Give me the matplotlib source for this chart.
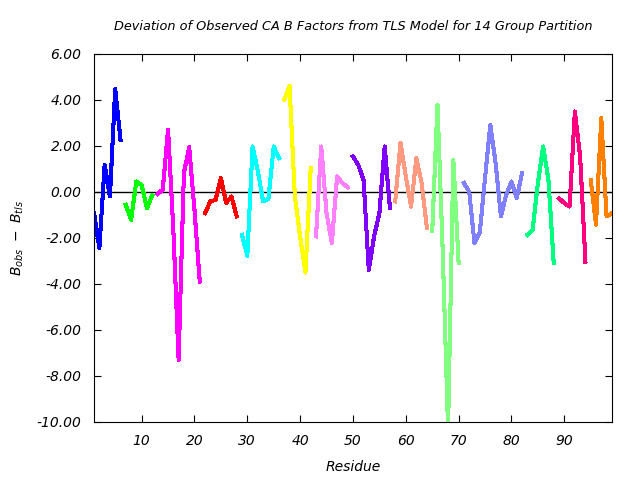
import matplotlib
matplotlib.use("Agg")
import matplotlib.pyplot as plt

# residue numbers and deviations, one list per TLS group
groups = [
    (list(range(1, 7)), [-0.93, -2.45, 1.17, -0.2, 4.47, 2.26]),
    (list(range(7, 13)), [-0.57, -1.22, 0.45, 0.3, -0.71, -0.16]),
    (list(range(13, 22)), [-0.09, 0.09, 2.7, -1.65, -7.3, 0.81, 1.94, -0.78, -3.9]),
    (list(range(22, 29)), [-0.93, -0.42, -0.35, 0.6, -0.49, -0.2, -1.07]),
    (list(range(29, 37)), [-1.87, -2.78, 1.97, 0.9, -0.42, -0.3, 1.97, 1.46]),
    (list(range(37, 43)), [4.0, 4.6, -0.2, -1.94, -3.51, 1.03]),
    (list(range(43, 50)), [-1.94, 1.97, -0.93, -2.23, 0.67, 0.38, 0.2]),
    (list(range(50, 58)), [1.54, 1.17, 0.52, -3.39, -1.94, -0.93, 1.97, -0.71]),
    (list(range(58, 65)), [-0.42, 2.14, 0.67, -0.64, 1.46, 0.38, -1.58]),
    (list(range(65, 71)), [-1.72, 3.78, -2.67, -10.3, 1.39, -3.1]),
    (list(range(71, 83)), [0.38, 0.01, -2.23, -1.78, 0.6, 2.91, 1.25, -1.07, -0.13, 0.45, -0.28, 0.81]),
    (list(range(83, 89)), [-1.87, -1.65, 0.38, 1.97, 0.52, -3.1]),
    (list(range(89, 95)), [-0.28, -0.49, -0.64, 3.49, 1.54, -3.03]),
    (list(range(95, 100)), [0.52, -1.43, 3.2, -1.07, -0.93]),
]

colors = ["#0000ff", "#00ff00", "#ff00ff", "#ff0000", "#00ffff", "#ffff00",
          "#ff80ff", "#8000ff", "#ff9980", "#80ff80", "#8080ff", "#00ff80",
          "#ff0080", "#ff8000"]

fig = plt.figure(figsize=(6.4, 4.8), dpi=100)
ax = fig.add_axes([0.147, 0.121, 0.809, 0.767])

ax.axhline(0, color="black", linewidth=1)
for (res, dev), c in zip(groups, colors):
    ax.plot(res, dev, color=c, linewidth=2.2, antialiased=False)

ax.set_xlim(1, 99)
ax.set_ylim(-10, 6)
ax.set_xticks(range(10, 100, 10))
ax.set_yticks(range(-10, 7, 2))
ax.set_yticklabels([f"{v:.2f}" for v in range(-10, 7, 2)])
ax.tick_params(direction="in", top=True, right=True, length=5, labelsize=10)
ax.tick_params(axis="y", pad=9)
ax.tick_params(axis="x", pad=9)
for lab in ax.get_xticklabels() + ax.get_yticklabels():
    lab.set_fontstyle("italic")

ax.set_title("Deviation of Observed CA B Factors from TLS Model for 14 Group Partition",
             fontsize=9.3, fontstyle="italic", pad=17)
ax.set_xlabel("Residue", fontsize=10, fontstyle="italic", labelpad=8)
ax.set_ylabel(r"$B_{obs}\ -\ B_{tls}$", fontsize=10, labelpad=8)

fig.savefig("out.png", dpi=100)
